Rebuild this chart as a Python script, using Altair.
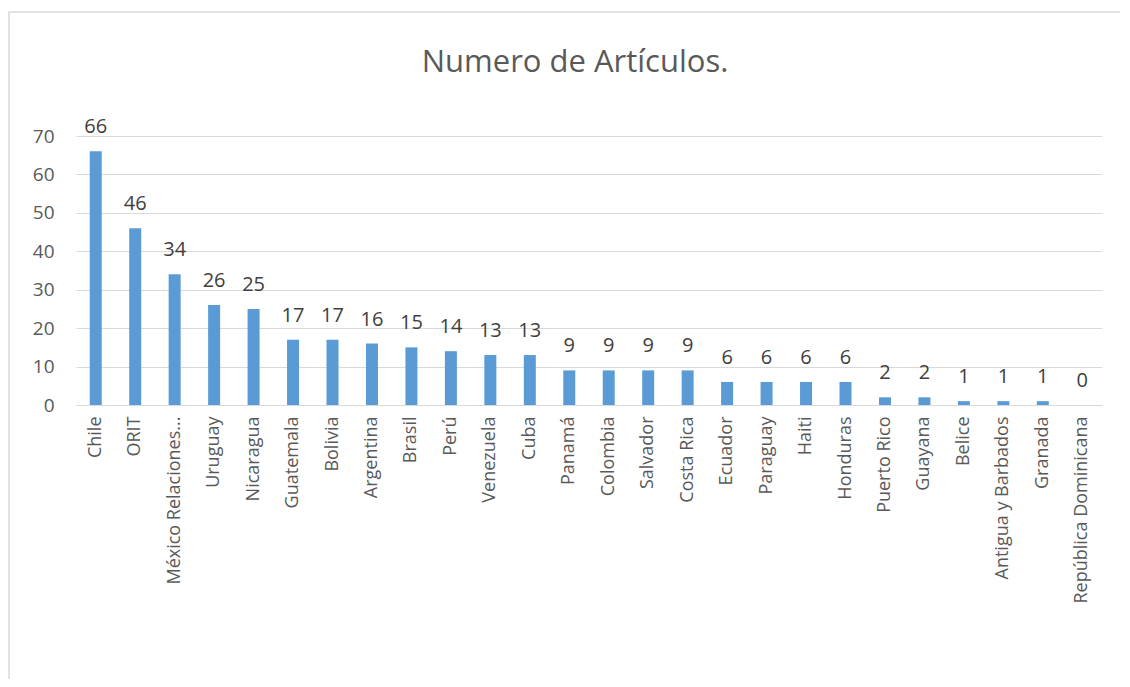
import altair as alt
import pandas as pd

categories = ["Chile", "ORIT", "México Relaciones...", "Uruguay", "Nicaragua", "Guatemala",
              "Bolivia", "Argentina", "Brasil", "Perú", "Venezuela", "Cuba", "Panamá",
              "Colombia", "Salvador", "Costa Rica", "Ecuador", "Paraguay", "Haiti",
              "Honduras", "Puerto Rico", "Guayana", "Belice", "Antigua y Barbados",
              "Granada", "República Dominicana"]
values = [66, 46, 34, 26, 25, 17, 17, 16, 15, 14, 13, 13, 9, 9, 9, 9, 6, 6, 6, 6, 2, 2, 1, 1, 1, 0]
y_ticks = [0, 10, 20, 30, 40, 50, 60, 70]
chart_title = ["Numero de Artículos."]

df = pd.DataFrame({"pais": categories, "n": values})
FONT = "Open Sans"

base = alt.Chart(df).encode(
    x=alt.X("pais:N", sort=None, title=None,
            scale=alt.Scale(paddingInner=0.0, paddingOuter=0.0),
            axis=alt.Axis(labelAngle=-90, labelAlign="right", labelBaseline="middle",
                          labelPadding=11, ticks=False, domainColor="#d9d9d9",
                          labelColor="#595959", labelFont=FONT, labelFontSize=18,
                          labelLimit=400)),
    y=alt.Y("n:Q", title=None,
            scale=alt.Scale(domain=[0, 70], nice=False),
            axis=alt.Axis(values=y_ticks, ticks=False, domain=False, gridColor="#d9d9d9",
                          labelColor="#595959", labelFont=FONT, labelFontSize=19,
                          labelPadding=22)),
)

bars = base.mark_bar(size=12, color="#5B9BD5")
labels = base.mark_text(dy=-24, font=FONT, fontSize=20, color="#404040").encode(text="n:Q")

border = alt.Chart(pd.DataFrame({"a": [0]})).mark_rect(
    fill=None, stroke="#d9d9d9", strokeWidth=1.5
).encode(x=alt.value(-67), x2=alt.value(1100), y=alt.value(-124), y2=alt.value(700))

title = alt.Chart(pd.DataFrame({"t": chart_title})).mark_text(
    font=FONT, fontSize=31, color="#595959", align="center", baseline="alphabetic"
).encode(text="t:N", x=alt.value(499), y=alt.value(-64))

chart = alt.layer(border, bars, labels, title).properties(
    width=1026, height=269,
    padding={"left": 68, "top": 128, "right": 18, "bottom": 274},
    autosize=alt.AutoSizeParams(type="none"),
).configure_view(stroke=None, clip=False)

chart.save("out.html", embed_options={"renderer": "svg", "actions": False})
